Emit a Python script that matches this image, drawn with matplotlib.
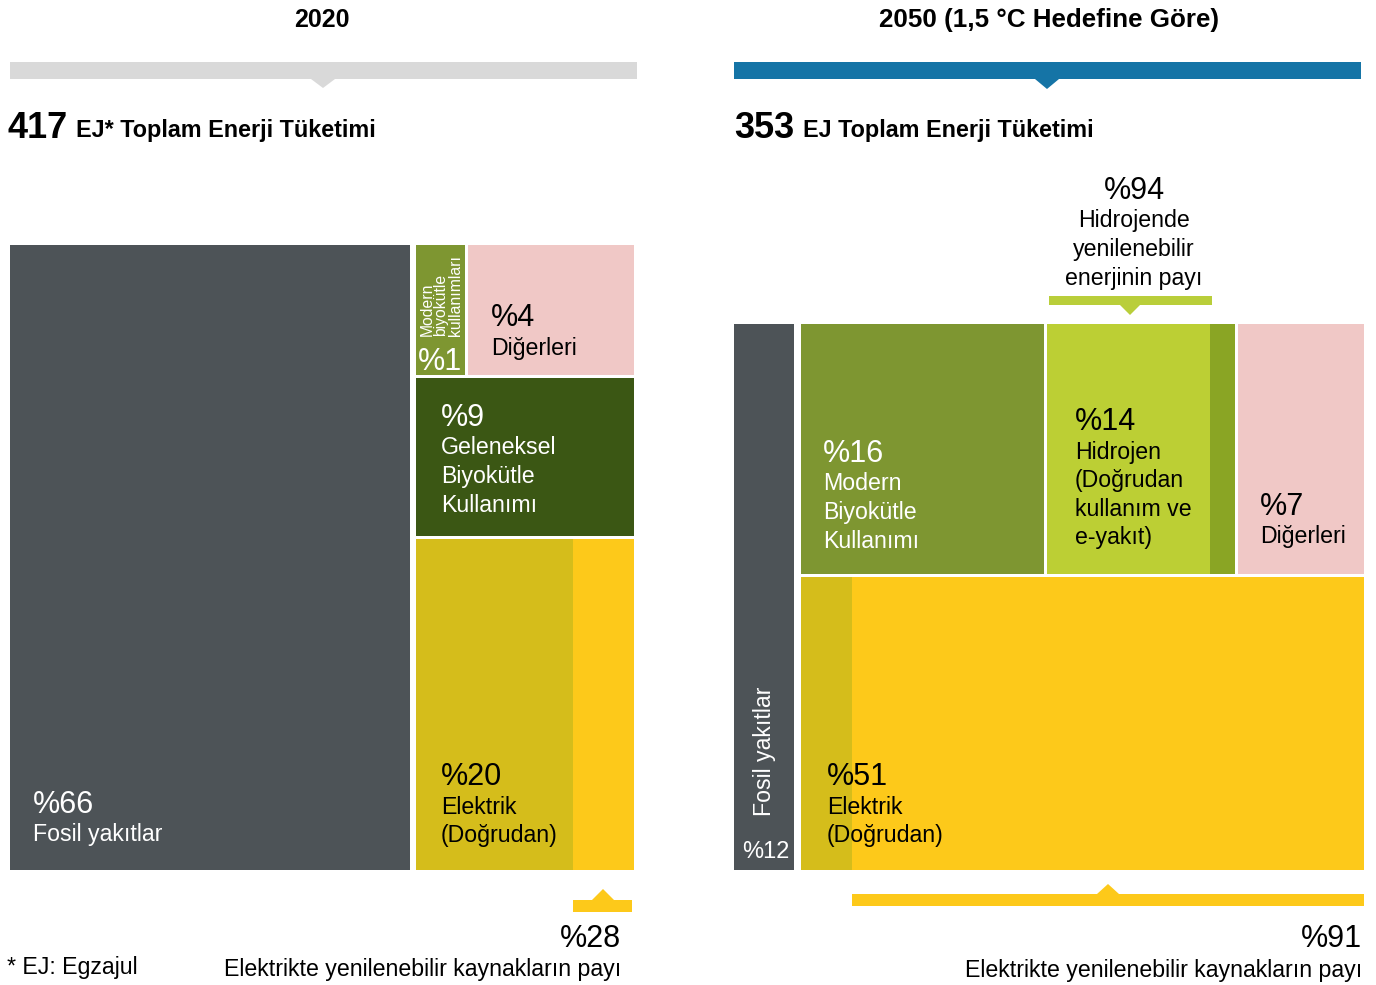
import matplotlib
matplotlib.use("Agg")
import matplotlib.pyplot as plt
from matplotlib.patches import Rectangle, Polygon

plt.rcParams['font.family'] = ['Liberation Sans', 'DejaVu Sans']

# ---------------- data ----------------
panel_titles = ["2020", "2050 (1,5 °C Hedefine Göre)"]
total_ej = [417, 353]
total_labels = ["EJ* Toplam Enerji Tüketimi", "EJ Toplam Enerji Tüketimi"]

cats_2020 = ["Fosil yakıtlar", "Modern biyokütle kullanımları", "Diğerleri",
             "Geleneksel Biyokütle Kullanımı", "Elektrik (Doğrudan)"]
shares_2020 = [66, 1, 4, 9, 20]
renew_elec_2020 = 28

cats_2050 = ["Fosil yakıtlar", "Modern Biyokütle Kullanımı",
             "Hidrojen (Doğrudan kullanım ve e-yakıt)", "Diğerleri", "Elektrik (Doğrudan)"]
shares_2050 = [12, 16, 14, 7, 51]
renew_elec_2050 = 91
renew_h2_2050 = 94

renew_elec_label = "Elektrikte yenilenebilir kaynakların payı"
renew_h2_label = "Hidrojende\nyenilenebilir\nenerjinin payı"
footnote = "* EJ: Egzajul"

# ---------------- style ----------------
C_FOSSIL = "#4d5357"
C_MODBIO = "#7e9631"
C_OTHER = "#f0c8c6"
C_TRAD = "#3b5714"
C_ELEC_NR = "#d5bd1b"
C_ELEC_R = "#fdc91a"
C_H2 = "#bccf34"
C_H2_NR = "#8aa524"
C_GREYBAR = "#d9d9d9"
C_BLUEBAR = "#1574a6"
C_GREENBAR = "#b9ce3a"

PCT = 22
LBL = 16.7

fig = plt.figure(figsize=(13.76, 9.85), dpi=100)
ax = fig.add_axes([0, 0, 1, 1])
ax.set_xlim(0, 1376)
ax.set_ylim(985, 0)
ax.axis("off")


def rect(x0, y0, x1, y1, color):
    ax.add_patch(Rectangle((x0, y0), x1 - x0, y1 - y0, facecolor=color,
                           edgecolor="none"))


def pointer_bar(x0, x1, y0, y1, xt, yt, color, tw=12):
    rect(x0, y0, x1, y1, color)
    ybase = y1 if yt > y1 else y0
    ax.add_patch(Polygon([(xt - tw, ybase), (xt + tw, ybase), (xt, yt)],
                         closed=True, facecolor=color, edgecolor="none"))


def label(x, y, pct, text, color="black", ha="left", pct_size=PCT, lsize=LBL):
    ax.text(x, y, pct, fontsize=pct_size, color=color, ha=ha, va="baseline")
    if text:
        for i, line in enumerate(text.split("\n")):
            ax.text(x, y + 28.5 * (i + 1), line, fontsize=lsize, color=color,
                    ha=ha, va="baseline")


# ---------------- headers ----------------
ax.text(322, 27, panel_titles[0], fontsize=18, fontweight="bold", ha="center", va="baseline")
ax.text(1049, 27, panel_titles[1], fontsize=18.7, fontweight="bold", ha="center", va="baseline")
pointer_bar(10, 637, 62, 79, 323, 88, C_GREYBAR)
pointer_bar(734, 1361, 62, 79, 1047, 89, C_BLUEBAR)

for x, n, lab in [(7, total_ej[0], total_labels[0]), (734, total_ej[1], total_labels[1])]:
    ax.text(x, 138, str(n), fontsize=26, fontweight="bold", ha="left", va="baseline")
    ax.text(x + 69, 137, lab, fontsize=16.8, fontweight="bold", ha="left", va="baseline")

# ---------------- 2020 treemap ----------------
L_top, L_bot = 245, 870
rect(10, L_top, 410, L_bot, C_FOSSIL)
cx0, cx1 = 416, 634
rect(cx0, L_top, 465, 375, C_MODBIO)
rect(468, L_top, cx1, 375, C_OTHER)
rect(cx0, 378, cx1, 536, C_TRAD)
split_l = cx1 - (cx1 - cx0) * renew_elec_2020 / 100
rect(cx0, 539, split_l, L_bot, C_ELEC_NR)
rect(split_l, 539, cx1, L_bot, C_ELEC_R)

label(33, 813, f"%{shares_2020[0]}", "Fosil yakıtlar", color="white")
label(491, 326, f"%{shares_2020[2]}", "Diğerleri")
label(441, 426, f"%{shares_2020[3]}", "Geleneksel\nBiyokütle\nKullanımı", color="white")
label(441, 785, f"%{shares_2020[4]}", "Elektrik\n(Doğrudan)")
ax.text(418, 370, f"%{shares_2020[1]}", fontsize=22, color="white", ha="left", va="baseline")
ax.text(441, 336, "Modern\nbiyokütle\nkullanımları", fontsize=11.3, color="white",
        rotation=90, ha="center", va="bottom", linespacing=0.92, multialignment="left")

pointer_bar(split_l, 632, 900, 912, 603, 889, C_ELEC_R, tw=11)
ax.text(621, 947, f"%{renew_elec_2020}", fontsize=PCT, ha="right", va="baseline")
ax.text(621, 976, renew_elec_label, fontsize=LBL, ha="right", va="baseline")
ax.text(7, 974, footnote, fontsize=LBL, ha="left", va="baseline")

# ---------------- 2050 treemap ----------------
R_top, R_bot = 324, 870
rect(734, R_top, 794, R_bot, C_FOSSIL)
rx0, rx1 = 801, 1364
rect(rx0, R_top, 1044, 574, C_MODBIO)
rect(1047, R_top, 1235, 574, C_H2)
rect(1210, R_top, 1235, 574, C_H2_NR)
rect(1238, R_top, rx1, 574, C_OTHER)
split_r = rx0 + (rx1 - rx0) * (100 - renew_elec_2050) / 100
rect(rx0, 577, split_r, R_bot, C_ELEC_NR)
rect(split_r, 577, rx1, R_bot, C_ELEC_R)

ax.text(764, 816, "Fosil yakıtlar", fontsize=LBL, color="white", rotation=90,
        ha="center", va="bottom")
ax.text(766, 858, f"%{shares_2050[0]}", fontsize=17, color="white", ha="center", va="baseline")
label(823, 462, f"%{shares_2050[1]}", "Modern\nBiyokütle\nKullanımı", color="white")
label(1075, 430, f"%{shares_2050[2]}", "Hidrojen\n(Doğrudan\nkullanım ve\ne-yakıt)")
label(1260, 515, f"%{shares_2050[3]}", "Diğerleri")
label(827, 785, f"%{shares_2050[4]}", "Elektrik\n(Doğrudan)")

pointer_bar(1049, 1212, 296, 305, 1130, 315, C_GREENBAR, tw=10)
label(1134, 199, f"%{renew_h2_2050}", renew_h2_label, ha="center")

pointer_bar(split_r, 1364, 894, 906, 1108, 884, C_ELEC_R, tw=11)
ax.text(1362, 947, f"%{renew_elec_2050}", fontsize=PCT, ha="right", va="baseline")
ax.text(1362, 977, renew_elec_label, fontsize=LBL, ha="right", va="baseline")

fig.savefig("out.png", dpi=100, facecolor="white")
